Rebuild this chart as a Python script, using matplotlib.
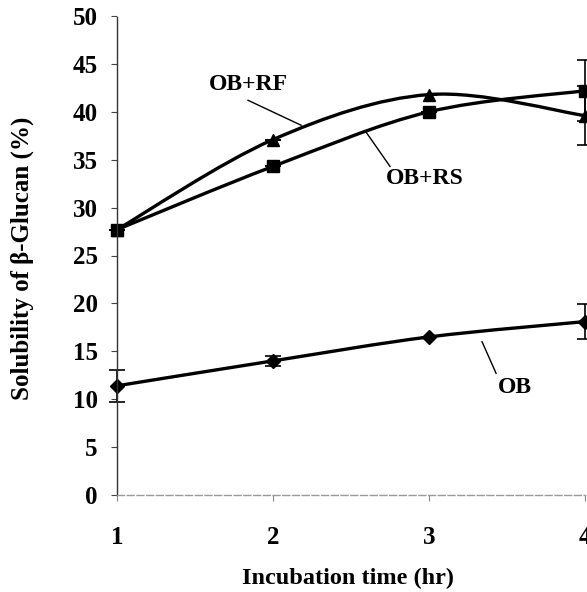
import matplotlib.pyplot as plt
from matplotlib.path import Path
from matplotlib.patches import PathPatch

plt.rcParams['font.family'] = ['Liberation Serif', 'DejaVu Serif']
plt.rcParams['font.weight'] = 'bold'

hours = [1, 2, 3, 4]
ob = [11.4, 14.0, 16.5, 18.1]
ob_err = [1.7, 0.5, 0.0, 1.8]
ob_rs = [27.7, 34.3, 40.0, 42.2]
ob_rs_err = [0.0, 0.0, 0.0, 3.2]
ob_rf = [27.7, 37.1, 41.8, 39.6]
ob_rf_err = [0.0, 0.0, 0.0, 3.1]


def smooth_path(x, y):
    # catmull-rom style bezier, like the spreadsheet "smoothed line"
    verts = [(x[0], y[0])]
    codes = [Path.MOVETO]
    n = len(x)
    for i in range(n - 1):
        x0, y0 = (x[i - 1], y[i - 1]) if i > 0 else (x[i], y[i])
        x3, y3 = (x[i + 2], y[i + 2]) if i + 2 < n else (x[i + 1], y[i + 1])
        c1 = (x[i] + (x[i + 1] - x0) / 6, y[i] + (y[i + 1] - y0) / 6)
        c2 = (x[i + 1] - (x3 - x[i]) / 6, y[i + 1] - (y3 - y[i]) / 6)
        verts += [c1, c2, (x[i + 1], y[i + 1])]
        codes += [Path.CURVE4] * 3
    return Path(verts, codes)


fig = plt.figure(figsize=(5.87, 5.92), dpi=100)
ax = fig.add_axes([117 / 587, 97 / 592, 468 / 587, 479 / 592])

for vals, errs, mk in [(ob, ob_err, 'D'), (ob_rs, ob_rs_err, 's'), (ob_rf, ob_rf_err, '^')]:
    ax.add_patch(PathPatch(smooth_path(hours, vals), fill=False, lw=2.4,
                           color='black', clip_on=False))
    ax.errorbar(hours, vals, yerr=errs, fmt='none', ecolor='black',
                elinewidth=1.2, capsize=6, capthick=1.2, clip_on=False)
    ax.plot(hours, vals, linestyle='none', marker=mk, color='black',
            markersize=9 if mk != 'D' else 7.5, clip_on=False)

ax.set_xlim(1, 4)
ax.set_ylim(0, 50)
ax.set_xticks(hours)
ax.set_yticks(range(0, 51, 5))
ax.tick_params(axis='y', length=4, pad=10, labelsize=18, color='#444')
ax.tick_params(axis='x', length=4, pad=18, labelsize=18, color='#888')

ax.spines['top'].set_visible(False)
ax.spines['right'].set_visible(False)
ax.spines['left'].set_color('#333')
ax.spines['left'].set_linestyle((0, (2, 1)))
ax.spines['left'].set_linewidth(1.0)
ax.spines['bottom'].set_color('#999')
ax.spines['bottom'].set_linestyle((0, (5, 2)))
ax.spines['bottom'].set_linewidth(1.0)

fig.text(348 / 587, 1 - 578 / 592, 'Incubation time (hr)', fontsize=17.5,
         fontweight='bold', ha='center', va='center')
fig.text(22 / 587, 1 - 258 / 592, 'Solubility of β-Glucan (%)', fontsize=18,
         fontweight='bold', ha='center', va='center', rotation=90)

# curve labels with leader lines
ax.text(1.84, 42.9, 'OB+RF', fontsize=17, fontweight='bold', ha='center', va='center')
ax.plot([1.84, 2.18], [41.2, 38.6], color='black', lw=1.0)
ax.text(2.97, 33.0, 'OB+RS', fontsize=17, fontweight='bold', ha='center', va='center')
ax.plot([2.60, 2.75], [37.8, 34.3], color='black', lw=1.0)
ax.text(3.55, 11.2, 'OB', fontsize=17, fontweight='bold', ha='center', va='center')
ax.plot([3.34, 3.43], [16.0, 12.7], color='black', lw=1.0)

fig.savefig('out.png', dpi=100)
